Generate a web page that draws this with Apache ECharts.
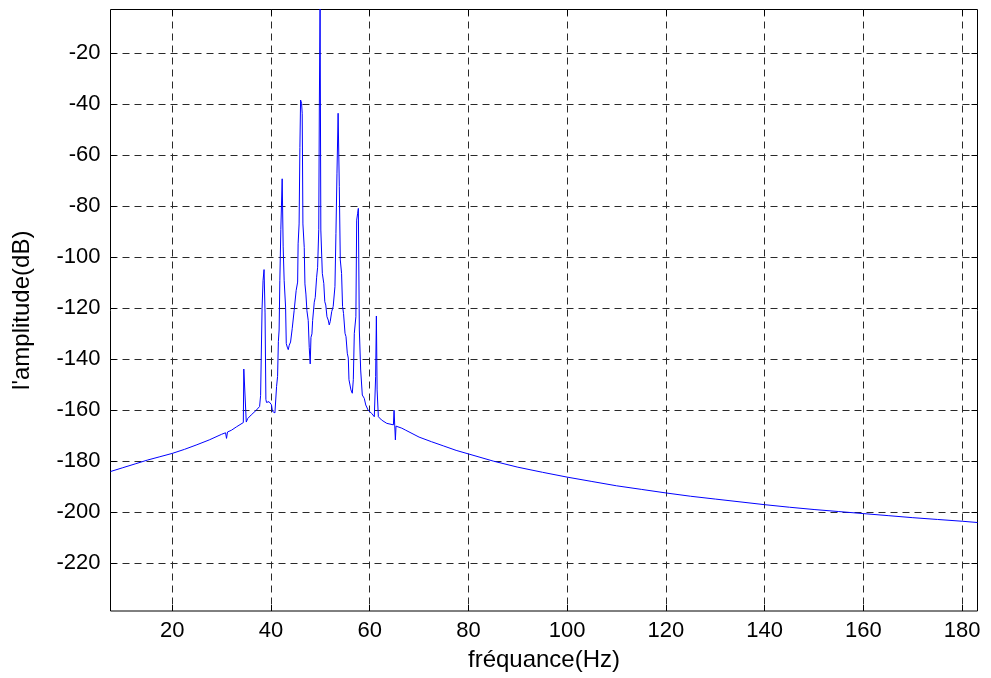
<!DOCTYPE html>
<html>
<head>
<meta charset="utf-8">
<script src="https://cdn.jsdelivr.net/npm/echarts@6/dist/echarts.min.js"></script>
<style>
  html, body { margin: 0; padding: 0; background: #ffffff; }
  #chart { width: 991px; height: 678px; }
</style>
</head>
<body>
<div id="chart"></div>
<script>
// Spectrum of the signal: frequency (Hz) and amplitude (dB)
const freqHz = [
  7.5, 10, 12.5, 15, 17.5, 20, 22.5, 25, 27.5, 30, 30.8, 31.0, 31.2, 32, 33, 34.4,
  34.5, 34.9, 35.0, 35.3, 36, 37, 37.7, 37.9, 38.2, 38.4, 38.6, 38.8, 38.97, 39.1,
  39.6, 40.1, 40.3, 40.8, 41.0, 41.14, 41.34, 41.5, 41.65, 41.8, 42.0, 42.27, 42.47,
  42.67, 42.96, 43.1, 43.3, 43.5, 43.7, 43.97, 44.3, 44.57, 44.7, 44.97, 45.1, 45.4,
  45.5, 45.7, 45.86, 46.0, 46.2, 46.33, 46.47, 46.74, 46.88, 47.08, 47.28, 47.55,
  47.75, 47.95, 48.1, 48.3, 48.44, 48.64, 48.77, 48.97, 49.25, 49.45, 49.68, 49.8,
  49.95, 50.1, 50.4, 50.7, 50.9, 51.1, 51.34, 51.6, 51.8, 52.0, 52.3, 52.6, 52.96,
  53.16, 53.37, 53.6, 53.84, 54.04, 54.3, 54.5, 54.7, 55.0, 55.2, 55.46, 55.66, 55.8,
  55.98, 56.2, 56.47, 56.68, 56.88, 57.2, 57.36, 57.56, 57.7, 57.9, 58.17, 58.5, 58.9,
  59.2, 59.7, 60.4, 60.93, 61.07, 61.2, 61.35, 61.5, 61.75, 62.4, 63.45, 64.8, 64.93,
  65.1, 65.2, 65.33, 66.5, 67.2, 70, 72.5, 75, 77.5, 80, 85, 90, 95, 100, 105, 110,
  115, 120, 125, 130, 135, 140, 145, 150, 155, 160, 165, 170, 175, 180, 183.1
];
const amplitudeDb = [
  -184.0, -182.5, -181.0, -179.5, -178.2, -176.9, -175.3, -173.5, -171.6, -169.4, -168.8, -171.0, -168.5, -167.8, -166.5, -164.8,
  -143.8, -144.4, -164.6, -163.2, -161.8, -160.0, -158.5, -154.2, -120.0, -109.0, -104.8, -121.8, -155.7, -156.9,
  -156.6, -157.8, -160.4, -161.0, -161.4, -150.6, -146.7, -133.0, -128.5, -109.0, -89.0, -69.2, -95.9,
  -109.0, -119.5, -133.8, -135.2, -136.2, -134.5, -133.2, -128.0, -127.4, -120.8, -120.1, -113.0, -109.7,
  -94.7, -86.9, -56.9, -38.3, -39.6, -43.5, -86.9, -96.1, -110.4, -114.4, -120.9, -124.8,
  -135.3, -141.8, -131.4, -130.0, -124.8, -124.2, -117.6, -115.7, -107.8, -103.9, -89.0, -40.0,
  0.0, -89.3, -106.3, -110.2, -117.4, -118.7, -123.3, -124.6, -126.5, -125.2, -121.3, -119.3, -111.5,
  -90.6, -67.0, -43.5, -72.3, -101.0, -106.3, -119.3, -122.0, -129.8, -131.1, -137.6, -139.5, -148.0,
  -148.7, -152.0, -153.3, -148.0, -129.8, -123.3, -85.4, -82.7, -80.8, -128.5, -144.2, -154.0, -155.3,
  -157.9, -160.0, -161.2, -162.5, -163.1, -146.8, -123.0, -152.0, -162.5, -163.8, -165.1, -165.7, -160.0,
  -160.0, -171.6, -166.2, -167.0, -167.7, -170.5, -172.3, -174.0, -175.7, -177.1, -179.9, -182.3, -184.3, -186.2, -187.9, -189.6,
  -191.0, -192.4, -193.7, -194.8, -195.9, -197.0, -198.0, -198.9, -199.7, -200.5, -201.3, -202.1, -202.8, -203.5, -204.0
];

// Axis ranges and tick labels
const freqRange = [7.5, 183.1];
const ampRange = [-238.7, -2.8];
const freqTicks = [20, 40, 60, 80, 100, 120, 140, 160, 180];
const ampTicks = [-220, -200, -180, -160, -140, -120, -100, -80, -60, -40, -20];

const xTitle = 'fréquance(Hz)';
const yTitle = "l'amplitude(dB)";

const FONT = "'Liberation Sans', Arial, Helvetica, sans-serif";
const TICK_FONT = 22;
const TITLE_FONT = 24;
const gridLine = { show: true, lineStyle: { color: '#2a2a2a', width: 1, type: [7, 5] } };
const innerTick = (vals) => ({ show: true, inside: true, length: 6, customValues: vals, lineStyle: { color: '#000', width: 1 } });

const chart = echarts.init(document.getElementById('chart'), null, { renderer: 'canvas' });

chart.setOption({
  animation: false,
  backgroundColor: '#ffffff',
  grid: {
    left: 110.5, top: 9.5, width: 867, height: 601.5,
    show: true, borderColor: '#000', borderWidth: 1, backgroundColor: '#ffffff'
  },
  xAxis: [
    {
      type: 'value', position: 'bottom', min: freqRange[0], max: freqRange[1],
      axisLine: { show: false },
      axisTick: innerTick(freqTicks),
      axisLabel: { customValues: freqTicks, fontSize: TICK_FONT, color: '#000', fontFamily: FONT, margin: 9 },
      splitLine: gridLine,
      name: xTitle, nameLocation: 'middle', nameGap: 37,
      nameTextStyle: { fontSize: TITLE_FONT, color: '#000', fontFamily: FONT }
    },
    {
      type: 'value', position: 'top', min: freqRange[0], max: freqRange[1],
      axisLine: { show: false },
      axisTick: innerTick(freqTicks),
      axisLabel: { show: false },
      splitLine: { show: false }
    }
  ],
  yAxis: [
    {
      type: 'value', position: 'left', min: ampRange[0], max: ampRange[1],
      axisLine: { show: false },
      axisTick: innerTick(ampTicks),
      axisLabel: { customValues: ampTicks, fontSize: TICK_FONT, color: '#000', fontFamily: FONT, margin: 10 },
      splitLine: gridLine,
      name: yTitle, nameLocation: 'middle', nameGap: 76,
      nameTextStyle: { fontSize: TITLE_FONT, color: '#000', fontFamily: FONT }
    },
    {
      type: 'value', position: 'right', min: ampRange[0], max: ampRange[1],
      axisLine: { show: false },
      axisTick: innerTick(ampTicks),
      axisLabel: { show: false },
      splitLine: { show: false }
    }
  ],
  series: [
    {
      type: 'line',
      xAxisIndex: 0, yAxisIndex: 0,
      data: freqHz.map((f, i) => [f, amplitudeDb[i]]),
      showSymbol: false,
      clip: true,
      lineStyle: { color: '#0000ff', width: 1 },
      z: 5
    }
  ]
});
</script>
</body>
</html>
